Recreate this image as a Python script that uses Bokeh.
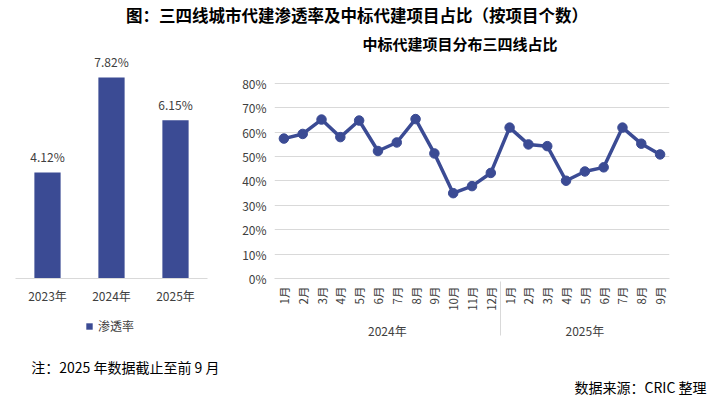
import math
from bokeh.plotting import figure
from bokeh.models import (FactorRange, Range1d, FixedTicker, PrintfTickFormatter,
                          Legend, LegendItem, ColumnDataSource)
from bokeh.layouts import column, row
from bokeh.embed import file_html
from bokeh.resources import INLINE
from bokeh.core.properties import value

FONT = "Noto Sans CJK SC"
BLUE = "#3B4B94"
TXT = "#404040"
GRID = "#d9d9d9"

# ---------------- data ----------------
main_title = "图：三四线城市代建渗透率及中标代建项目占比（按项目个数）"
line_title = "中标代建项目分布三四线占比"
note_text = "注：2025 年数据截止至前 9 月"
source_text = "数据来源：CRIC 整理"

bar_years = ["2023年", "2024年", "2025年"]
bar_rates = [4.12, 7.82, 6.15]
bar_labels = ["4.12%", "7.82%", "6.15%"]
bar_series = "渗透率"

year_a = "2024年"
months_a = ["1月", "2月", "3月", "4月", "5月", "6月", "7月", "8月", "9月", "10月", "11月", "12月"]
share_a = [57.4, 59.3, 65.2, 58.0, 64.8, 52.3, 55.8, 65.4, 51.3, 35.0, 37.9, 43.3]
year_b = "2025年"
months_b = ["1月", "2月", "3月", "4月", "5月", "6月", "7月", "8月", "9月"]
share_b = [61.9, 55.0, 54.3, 40.1, 43.9, 45.6, 61.9, 55.3, 50.9]
y_ticks = [0, 10, 20, 30, 40, 50, 60, 70, 80]

W = 711
ROW_H = 320
TOP_B = 23
BOT_B = 72
BAR_W = 222
LEG_H = 44


def bare(fig):
    fig.axis.visible = False
    fig.grid.visible = False
    fig.outline_line_color = None
    fig.min_border = 0
    return fig

# ---------------- header ----------------
ph = bare(figure(width=W, height=30, x_range=Range1d(0, W), y_range=Range1d(0, 30),
                 output_backend="svg", toolbar_location=None))
ph.text(x=[356.5], y=[16], text=[main_title], text_font=value(FONT), text_font_size="16.5px",
        text_font_style="bold", text_color="#000000", text_align="center", text_baseline="middle")

# ---------------- bar chart ----------------
bar_range = FactorRange(*bar_years)
pb = figure(width=BAR_W, height=ROW_H - LEG_H, x_range=bar_range, y_range=Range1d(0, 8.75),
            output_backend="svg", toolbar_location=None,
            min_border_left=15, min_border_right=15, min_border_top=TOP_B,
            min_border_bottom=BOT_B - LEG_H)
pb.outline_line_color = None
pb.grid.visible = False
pb.yaxis.visible = False
bsrc = ColumnDataSource(dict(year=bar_years, rate=bar_rates, label=bar_labels))
rb = pb.vbar(x="year", top="rate", width=0.41, source=bsrc, fill_color=BLUE, line_color=None)
pb.text(x="year", y="rate", text="label", source=bsrc, y_offset=-16, text_font=value(FONT),
        text_font_size="12px", text_color=TXT, text_align="center", text_baseline="middle")
xa = pb.xaxis[0]
xa.axis_line_color = GRID
xa.major_tick_line_color = None
xa.minor_tick_line_color = None
xa.major_tick_out = 0
xa.major_tick_in = 0
xa.major_label_standoff = 8
xa.major_label_text_font = FONT
xa.major_label_text_font_size = "12px"
xa.major_label_text_color = TXT

# legend strip under the bar chart (same series, kept out of view so only the key shows)
plg = figure(width=BAR_W, height=LEG_H, x_range=bar_range, y_range=Range1d(20, 21),
             output_backend="svg", toolbar_location=None)
plg.axis.visible = False
plg.grid.visible = False
plg.outline_line_color = None
plg.min_border_left = 15
plg.min_border_right = 15
plg.min_border_top = 0
plg.min_border_bottom = 0
rleg = plg.vbar(x="year", top="rate", width=0.41, source=bsrc, fill_color=BLUE, line_color=None)
leg = Legend(items=[LegendItem(label=bar_series, renderers=[rleg])], location=(70, 16),
             orientation="horizontal", glyph_width=8, glyph_height=8, label_height=14,
             label_text_font=FONT, label_text_font_size="12px", label_text_color=TXT,
             border_line_color=None, background_fill_alpha=0, padding=0, margin=0,
             label_standoff=5)
plg.add_layout(leg)

# ---------------- line chart ----------------
factors = [(year_a, m) for m in months_a] + [(year_b, m) for m in months_b]
shares = share_a + share_b
pl = figure(width=W - BAR_W, height=ROW_H,
            x_range=FactorRange(*factors, group_padding=0, factor_padding=0, range_padding=0),
            y_range=Range1d(0, 92.3), output_backend="svg", toolbar_location=None,
            min_border_left=52, min_border_right=42, min_border_top=TOP_B, min_border_bottom=BOT_B)
pl.outline_line_color = None
pl.title.text = line_title
pl.title.align = "left"
pl.title.offset = 88
pl.title.standoff = 0
pl.title.text_font = FONT
pl.title.text_font_size = "15px"
pl.title.text_font_style = "bold"
pl.title.text_color = "#000000"
lsrc = ColumnDataSource(dict(x=factors, y=shares))
pl.line(x="x", y="y", source=lsrc, line_color=BLUE, line_width=3.5)
pl.scatter(x="x", y="y", source=lsrc, size=9.5, fill_color=BLUE, line_color=BLUE)
pl.xgrid.visible = False
pl.ygrid.ticker = FixedTicker(ticks=y_ticks)
pl.ygrid.grid_line_color = GRID
ya = pl.yaxis[0]
ya.ticker = FixedTicker(ticks=y_ticks)
ya.formatter = PrintfTickFormatter(format="%d%%")
ya.axis_line_color = None
ya.major_tick_line_color = None
ya.minor_tick_line_color = None
ya.major_tick_out = 0
ya.major_tick_in = 0
ya.major_label_standoff = 8
ya.major_label_text_font = FONT
ya.major_label_text_font_size = "12px"
ya.major_label_text_color = TXT
xl = pl.xaxis[0]
xl.axis_line_color = GRID
xl.major_tick_line_color = None
xl.major_tick_out = 0
xl.major_tick_in = 0
xl.major_label_standoff = 8
xl.major_label_orientation = math.pi / 2
xl.major_label_text_font = FONT
xl.major_label_text_font_size = "11.5px"
xl.major_label_text_color = TXT
xl.group_text_font = FONT
xl.group_text_font_size = "12px"
xl.group_text_font_style = "normal"
xl.group_text_color = TXT
xl.separator_line_color = GRID
xl.separator_line_width = 1

# ---------------- footer ----------------
pf = bare(figure(width=W, height=56, x_range=Range1d(0, W), y_range=Range1d(0, 56),
                 output_backend="svg", toolbar_location=None))
pf.text(x=[30.7], y=[40], text=[note_text], text_font=value(FONT), text_font_size="14px",
        text_color="#000000", text_align="left", text_baseline="middle")
pf.text(x=[706], y=[20], text=[source_text], text_font=value(FONT), text_font_size="14px",
        text_color="#000000", text_align="right", text_baseline="middle")

layout = column(ph, row(column(pb, plg, spacing=0), pl, spacing=0), pf, spacing=0)
open("out.html", "w").write(file_html(layout, INLINE))
